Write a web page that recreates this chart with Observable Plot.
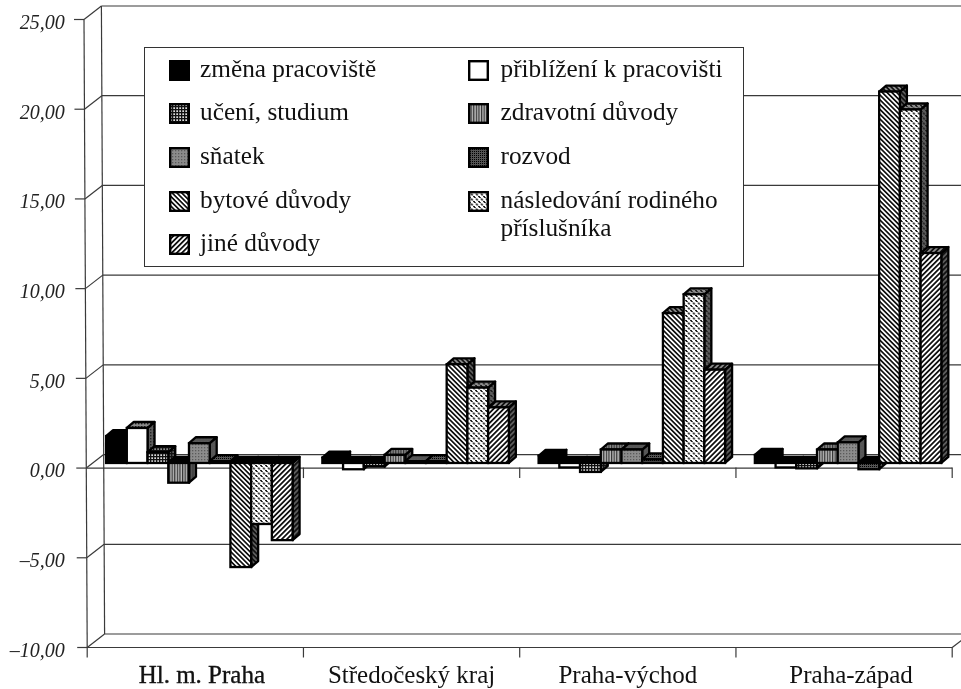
<!DOCTYPE html>
<html lang="cs">
<head>
<meta charset="utf-8">
<script src="https://cdn.jsdelivr.net/npm/d3@7"></script>
<script src="https://cdn.jsdelivr.net/npm/@observablehq/plot@0.6"></script>
<style>
  html, body { margin: 0; padding: 0; background: #fff; }
  #wrap { position: relative; width: 961px; height: 689px; overflow: hidden; font-family: "Liberation Serif", serif; color: #111; filter: blur(0.35px); }
  #wrap svg { display: block; }
  #legend { position: absolute; left: 144px; top: 47px; width: 598px; height: 218px; background: #fff; border: 1.5px solid #333; box-sizing: content-box; }
  .item { position: absolute; font-size: 25.3px; line-height: 27.5px; white-space: pre; }
  .sw { position: absolute; width: 21px; height: 21px; }
</style>
</head>
<body>
<div id="wrap"><div id="chart"></div><div id="legend"></div></div>
<script>
const groups = ["Hl. m. Praha", "Středočeský kraj", "Praha-východ", "Praha-západ"];
const yTicks = [25, 20, 15, 10, 5, 0, -5, -10];
const seriesNames = ["změna pracoviště", "přiblížení k pracovišti", "učení, studium", "zdravotní důvody", "sňatek", "rozvod", "bytové důvody", "následování rodiného\npříslušníka", "jiné důvody"];

const zmena       = [1.5, 0.3, 0.4, 0.45];
const priblizeni  = [1.95, -0.35, -0.25, -0.25];
const uceni       = [0.6, -0.2, -0.5, -0.3];
const zdravotni   = [-1.1, 0.45, 0.75, 0.75];
const snatek      = [1.1, 0.1, 0.75, 1.15];
const rozvod      = [0.1, 0.1, 0.2, -0.35];
const bytove      = [-5.8, 5.5, 8.35, 20.7];
const nasledovani = [-3.4, 4.2, 9.4, 19.7];
const jine        = [-4.3, 3.1, 5.2, 11.7];
const seriesValues = [zmena, priblizeni, uceni, zdravotni, snatek, rozvod, bytove, nasledovani, jine];

// fill pattern ids, in series order
const patternIds = ["solid", "blank", "grid", "vert", "speck", "dark", "back", "weave", "fwd"];

function patternDefs() {
  const variant = (suffix, bg) => `
    <pattern id="solid${suffix}" width="4" height="4" patternUnits="userSpaceOnUse"><rect width="4" height="4" fill="#000"/></pattern>
    <pattern id="blank${suffix}" width="3" height="3" patternUnits="userSpaceOnUse"><rect width="3" height="3" fill="${bg}"/>${suffix ? '<rect width="1.4" height="1.4" fill="#222"/>' : ''}</pattern>
    <pattern id="grid${suffix}" width="3" height="3" patternUnits="userSpaceOnUse"><rect width="3" height="3" fill="${suffix ? bg : '#ddd'}"/><rect width="3" height="1.3" fill="#111"/><rect width="1.3" height="3" fill="#111"/></pattern>
    <pattern id="vert${suffix}" width="2.6" height="3" patternUnits="userSpaceOnUse"><rect width="2.6" height="3" fill="${suffix ? bg : '#bbb'}"/><rect width="1.2" height="3" fill="#333"/></pattern>
    <pattern id="speck${suffix}" width="3" height="3" patternUnits="userSpaceOnUse"><rect width="3" height="3" fill="${suffix ? '#555' : '#8c8c8c'}"/><rect width="1.3" height="1.3" fill="#5a5a5a"/></pattern>
    <pattern id="dark${suffix}" width="2" height="2" patternUnits="userSpaceOnUse"><rect width="2" height="2" fill="#555"/><rect width="1" height="1" fill="#000"/></pattern>
    <pattern id="back${suffix}" width="3.4" height="3.4" patternUnits="userSpaceOnUse" patternTransform="rotate(-45)"><rect width="3.4" height="3.4" fill="${bg}"/><rect width="1.7" height="3.4" fill="#111"/></pattern>
    <pattern id="fwd${suffix}" width="3.6" height="3.6" patternUnits="userSpaceOnUse" patternTransform="rotate(45)"><rect width="3.6" height="3.6" fill="${bg}"/><rect width="1.8" height="3.6" fill="#111"/></pattern>
    <pattern id="weave${suffix}" width="5" height="5" patternUnits="userSpaceOnUse"><rect width="5" height="5" fill="${bg}"/><path d="M0 0h2v1h0.8v0.9h-2v-1h-0.8z M2.5 2.5h2v1h0.8v0.9h-2v-1h-0.8z M-2.5 2.5h2v1h0.8v0.9h-2v-1h-0.8z" fill="#222"/></pattern>`;
  const defs = d3.create("svg:defs");
  defs.html(variant("", "#fff") + variant("-side", "#5c5c5c") + variant("-top", "#8c8c8c"));
  return defs.node();
}

// layout expressed in data units of the two scales
const xPerPx = 1 / 216.25, yPerPx = 1 / 17.94;
const xDomain = [-86.7 * xPerPx, (961 - 86.7) * xPerPx];
const barStart = 19.4 * xPerPx, barWidth = 20.72 * xPerPx;
const barBase = 4.6 * yPerPx, barDx = 7 * xPerPx, barDy = 6 * yPerPx;
const wallDx = 17.4 * xPerPx, wallDy = 13.5 * yPerPx;
const leftX = (v) => -(v + 10) / 35 * 3.2 * xPerPx;
const INK = "#3a3a3a";

const framePts = {
  wallGrid: yTicks.map((v) => ({x1: leftX(v) + wallDx, x2: xDomain[1], y1: v + wallDy, y2: v + wallDy})),
  diag: yTicks.map((v) => ({x1: leftX(v), x2: leftX(v) + wallDx, y1: v, y2: v + wallDy})),
  tick: yTicks.map((v) => ({x1: leftX(v) - 10 * xPerPx, x2: leftX(v), y1: v, y2: v})),
  axis: [{x1: leftX(-10), x2: leftX(25), y1: -10, y2: 25}],
  wall: [{x1: leftX(-10) + wallDx, x2: leftX(25) + wallDx, y1: -10 + wallDy, y2: 25 + wallDy}],
  front: [{x1: leftX(-10), x2: 4, y1: -10, y2: -10}, {x1: leftX(0), x2: 4, y1: 0, y2: 0}],
  rightDiag: [{x1: 4, x2: 4 + wallDx, y1: -10, y2: -10 + wallDy}]
};
const link = (data, extra = {}) => Plot.link(data, {x1: "x1", x2: "x2", y1: "y1", y2: "y2", stroke: INK, strokeWidth: 1.2, ...extra});
const catIndex = [0, 1, 2, 3, 4];
const stub = 10.5 * yPerPx;

function barMarks() {
  return seriesValues.flatMap((vals, si) => {
    const id = patternIds[si];
    const rows = vals.map((v, gi) => {
      const x1 = gi + barStart + si * barWidth, x2 = x1 + barWidth;
      const y1 = barBase, y2 = barBase + v;
      return {gi, v, x1, x2, y1, y2};
    });
    const sidePts = rows.flatMap((r) => [
      {g: r.gi, x: r.x2, lo: r.y1, hi: r.y2},
      {g: r.gi, x: r.x2 + barDx, lo: r.y1 + barDy, hi: r.y2 + barDy}
    ]);
    const topOf = (r) => Math.max(r.y1, r.y2);
    const topRows = (neg) => rows.filter((r) => (r.v < 0) === neg);
    const topPts = (neg) => topRows(neg).flatMap((r) => [
      {g: r.gi, y: topOf(r), a: r.x1, b: r.x2},
      {g: r.gi, y: topOf(r) + barDy, a: r.x1 + barDx, b: r.x2 + barDx}
    ]);
    const stroke = {stroke: "#000", strokeWidth: 2.3};
    return [
      Plot.areaY(sidePts, {x: "x", y1: "lo", y2: "hi", z: "g", fill: `url(#${id}-side)`, ...stroke}),
      Plot.areaX(topPts(false), {y: "y", x1: "a", x2: "b", z: "g", fill: `url(#${id}-top)`, ...stroke}),
      Plot.areaX(topPts(true), {y: "y", x1: "a", x2: "b", z: "g", fill: "#000", ...stroke}),
      Plot.rect(rows, {x1: "x1", x2: "x2", y1: "y1", y2: "y2", fill: `url(#${id})`, inset: 0, ...stroke})
    ];
  });
}

const labelShift = [6.5, 0, 0, 7];
const fmt = (v) => (v < 0 ? "–" : "") + Math.abs(v).toFixed(2).replace(".", ",");

const chart = Plot.plot({
  width: 961, height: 689,
  marginTop: 0, marginRight: 0, marginBottom: 0, marginLeft: 0,
  x: {type: "linear", domain: xDomain, range: [0, 961], axis: null},
  y: {type: "linear", domain: [-10, 25], range: [647, 19], axis: null},
  style: {background: "#fff", overflow: "hidden"},
  marks: [
    patternDefs,
    link(framePts.wallGrid),
    link(framePts.diag),
    link(framePts.tick),
    link(framePts.axis),
    link(framePts.wall),
    link(framePts.front),
    link(framePts.rightDiag),
    Plot.ruleX(catIndex, {x: (d) => d, y1: -10, y2: -10 - stub, stroke: INK, strokeWidth: 1.2}),
    Plot.ruleX(catIndex.slice(1), {x: (d) => d, y1: 0, y2: -stub, stroke: INK, strokeWidth: 1.2}),
    ...barMarks(),
    Plot.text(yTicks, {
      x: -22.5 * xPerPx, y: (d) => d, text: fmt, textAnchor: "end", dy: 3,
      fontFamily: "Liberation Serif", fontStyle: "italic", fontSize: 20, fill: "#222"
    }),
    ...groups.map((g, i) => Plot.text([g], {
      x: i + 0.5, frameAnchor: "bottom", dy: -7, dx: labelShift[i], text: (d) => d,
      fontFamily: "Liberation Serif", fontSize: 25, fill: "#111",
      stroke: i === 0 ? "#111" : "none", strokeWidth: 0.35
    }))
  ]
});
document.getElementById("chart").appendChild(chart);

// legend, overlaid on the wall as in the reference
const legendRows = [12, 55, 99, 143, 186];
const legendOrder = [[0, 0, 0], [1, 1, 0], [2, 0, 1], [3, 1, 1], [4, 0, 2], [5, 1, 2], [6, 0, 3], [7, 1, 3], [8, 0, 4]];
const legendX = [[24, 55], [323, 355.5]];
const legend = d3.select("#legend");
for (const [si, col, row] of legendOrder) {
  legend.append("svg").attr("class", "sw").attr("viewBox", "0 0 21 21")
    .style("left", legendX[col][0] + "px").style("top", legendRows[row] + "px")
    .append("rect").attr("x", 1.2).attr("y", 1.2).attr("width", 18.6).attr("height", 18.6)
    .attr("fill", `url(#${patternIds[si]})`).attr("stroke", "#000").attr("stroke-width", 2.4);
  legend.append("div").attr("class", "item")
    .style("left", legendX[col][1] + "px").style("top", (legendRows[row] - 5) + "px")
    .text(seriesNames[si]);
}
</script>
</body>
</html>
